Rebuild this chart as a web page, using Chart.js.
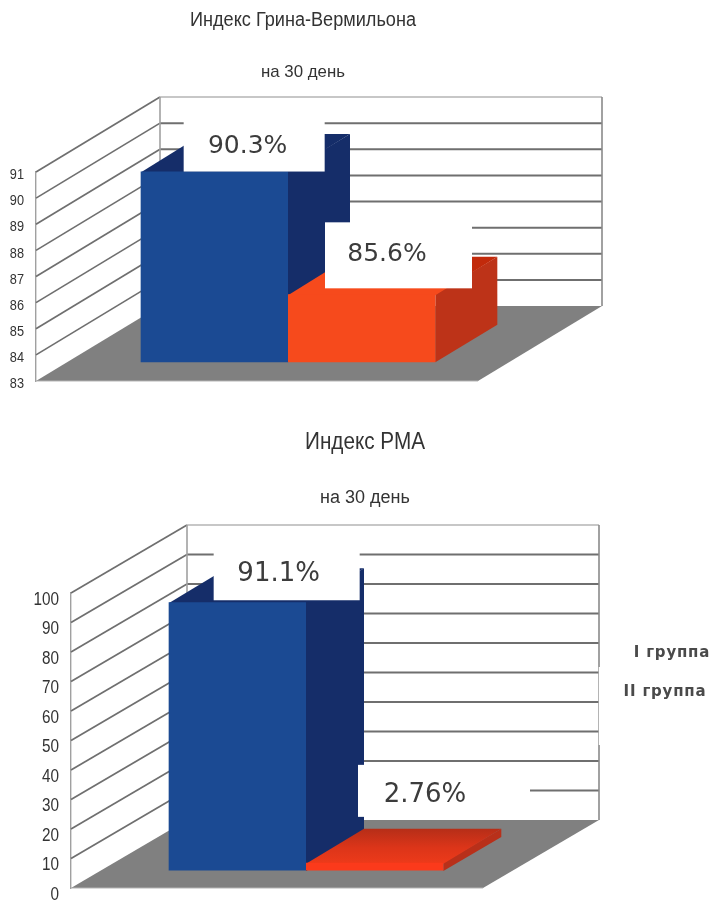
<!DOCTYPE html>
<html>
<head>
<meta charset="utf-8">
<title>Индекс Грина-Вермильона, индекс РМА</title>
<script src="https://cdn.jsdelivr.net/npm/chart.js@4"></script>
<style>
    html, body { margin: 0; padding: 0; background: #fff; overflow: hidden; }
    .box { position: absolute; left: 0; width: 714px; }
    canvas { display: block; }
</style>
</head>
<body>
<div class="box" style="top:0;height:420px"><canvas id="greenChart"></canvas></div>
<div class="box" style="top:420px;height:482px"><canvas id="pmaChart"></canvas></div>

<script>
const groups = ["I группа", "II группа"];
const categories = ["на 30 день"];

const greenValues = [90.3, 85.6];
const greenTitle = "Индекс Грина-Вермильона";

const pmaValues = [91.1, 2.76];
const pmaTitle = "Индекс РМА";

const subTitle = "на 30 день";

const blueFaces = { front: "#1b4a93", side: "#152d69", top: [[0, "#152d69"], [1, "#152d69"]], topDir: "h" };
const redFacesGreen = { front: "#f64a1c", side: "#bd3318", top: [[0, "#f64a1c"], [0.87, "#f64a1c"], [0.87, "#c22a0b"], [1, "#c22a0b"]], topDir: "h" };
const redFacesPma = { front: "#fb3a1b", side: "#b8301a", top: [[0, "#b62e18"], [0.55, "#dc3519"], [1, "#ec3a1a"]], topDir: "v" };

const lineColor = "#6f6f6f";
const floorColor = "#808080";

function polygon(ctx, pts, color) {
    ctx.fillStyle = color;
    ctx.beginPath();
    ctx.moveTo(pts[0][0], pts[0][1]);
    for (let i = 1; i < pts.length; i++) ctx.lineTo(pts[i][0], pts[i][1]);
    ctx.closePath();
    ctx.fill();
}

function segment(ctx, x1, y1, x2, y2, color, width) {
    ctx.strokeStyle = color;
    ctx.lineWidth = width;
    ctx.beginPath();
    ctx.moveTo(x1, y1);
    ctx.lineTo(x2, y2);
    ctx.stroke();
}

// walls, floor and the side/top faces of the bars are projected from the chart's own scales
const box3d = {
    id: "box3d",
    beforeDatasetsDraw(chart, args, opts) {
        const ctx = chart.ctx;
        const area = chart.chartArea;
        const yScale = chart.scales.y;
        const bottom = yScale.getPixelForValue(yScale.min);
        const dx = opts.depthX, dy = opts.depthY;

        ctx.save();
        // floor
        polygon(ctx, [[area.left, bottom], [area.left + dx, bottom - dy], [area.right + dx, bottom - dy], [area.right, bottom]], floorColor);

        // grid on the left wall and on the back wall
        yScale.ticks.forEach(t => {
            const y = yScale.getPixelForValue(t.value);
            if (t.value !== yScale.min) {
                segment(ctx, area.left, y, area.left + dx, y - dy, lineColor, 1.7);
                if (t.value !== yScale.max) segment(ctx, area.left + dx, y - dy, area.right + dx, y - dy, lineColor, 2);
            }
        });
        const top = yScale.getPixelForValue(yScale.max);
        segment(ctx, area.left + dx, top - dy, area.right + dx, top - dy, "#b5b5b5", 1.6);
        segment(ctx, area.left + dx, top - dy, area.left + dx, bottom - dy, "#a0a0a0", 1.6);
        segment(ctx, area.right + dx, top - dy, area.right + dx, bottom - dy, "#8a8a8a", 1.6);
        segment(ctx, area.left, bottom, area.right, bottom, "#b5b5b5", 1);

        // bars stand a quarter of the way in and are half the depth deep
        const sx = dx * 0.25, sy = dy * 0.25;
        const bx = dx * 0.5, by = dy * 0.5;
        chart.data.datasets.forEach((ds, i) => {
            const bar = chart.getDatasetMeta(i).data[0];
            const faces = opts.faces[i];
            const left = bar.x - bar.width / 2 + sx;
            const right = bar.x + bar.width / 2 + sx;
            const yTop = bar.y - sy;
            const yBase = bottom - sy;
            polygon(ctx, [[right, yTop], [right + bx, yTop - by], [right + bx, yBase - by], [right, yBase]], faces.side);

            const grad = faces.topDir === "h"
                ? ctx.createLinearGradient(left, 0, right + bx, 0)
                : ctx.createLinearGradient(0, yTop - by, 0, yTop);
            faces.top.forEach(s => grad.addColorStop(s[0], s[1]));
            // slight overlap so no seam shows against the front face
            polygon(ctx, [[left, yTop + 1], [left + bx, yTop - by], [right + bx, yTop - by], [right, yTop + 1]], grad);
        });
        ctx.restore();

        ctx.save();
        ctx.translate(sx, -sy);
    },
    afterDatasetsDraw(chart, args, opts) {
        const ctx = chart.ctx;
        ctx.restore();

        const sx = opts.depthX * 0.25, sy = opts.depthY * 0.25;
        ctx.save();
        chart.data.datasets.forEach((ds, i) => {
            const bar = chart.getDatasetMeta(i).data[0];
            const left = bar.x - bar.width / 2 + sx;
            const yTop = bar.y - sy;
            const tag = opts.tags[i];
            ctx.fillStyle = "#fff";
            ctx.fillRect(left + tag.dx, yTop + tag.dy, tag.w, tag.h);
            ctx.fillStyle = "#3c3c3c";
            ctx.font = opts.tagFont;
            ctx.textAlign = "center";
            ctx.textBaseline = "middle";
            ctx.fillText(ds.data[0] + "%", left + tag.tx, yTop + tag.ty);
        });
        ctx.restore();
    },
    afterDraw(chart, args, opts) {
        const ctx = chart.ctx;
        const yScale = chart.scales.y;
        ctx.save();
        ctx.textBaseline = "middle";

        // white panel behind the legend cuts into the right wall edge
        if (opts.legendBox) {
            const b = opts.legendBox;
            ctx.fillStyle = "#fff";
            ctx.fillRect(b.x, b.y, b.w, b.h);
        }

        // tick labels are squeezed, fillText's maxWidth does that
        ctx.fillStyle = "#333";
        ctx.textAlign = "right";
        ctx.font = opts.tickFont;
        yScale.ticks.forEach(t => {
            const w = ctx.measureText(t.label).width * 0.85;
            ctx.fillText(t.label, opts.tickX, yScale.getPixelForValue(t.value) + opts.tickOffset, w);
        });

        ctx.textAlign = "center";
        opts.texts.forEach(t => {
            ctx.font = t.font;
            ctx.letterSpacing = t.spacing || "0px";
            ctx.fillStyle = t.color || "#333";
            ctx.fillText(t.text, t.x, t.y, t.w);
        });
        ctx.restore();
    }
};

function makeChart(id, values, cfg) {
    const datasets = groups.map((g, i) => ({
        label: g,
        data: [values[i]],
        backgroundColor: cfg.faces[i].front,
        borderWidth: 0,
        barPercentage: 1,
        categoryPercentage: 2 / 3
    }));

    return new Chart(document.getElementById(id), {
        type: "bar",
        data: { labels: categories, datasets: datasets },
        plugins: [box3d],
        options: {
            responsive: true,
            maintainAspectRatio: false,
            animation: false,
            layout: { padding: cfg.padding },
            plugins: {
                legend: { display: false },
                title: { display: false },
                tooltip: { enabled: false },
                box3d: {
                    depthX: cfg.depthX,
                    depthY: cfg.depthY,
                    faces: cfg.faces,
                    tags: cfg.tags,
                    texts: cfg.texts,
                    legendBox: cfg.legendBox,
                    tagFont: cfg.tagFont,
                    tickFont: cfg.tickFont,
                    tickX: cfg.tickX,
                    tickOffset: cfg.tickOffset
                }
            },
            scales: {
                x: { display: false },
                y: {
                    min: cfg.min,
                    max: cfg.max,
                    afterFit(scale) { scale.width = cfg.axisWidth; },
                    grid: { drawOnChartArea: false, drawTicks: false },
                    border: { display: true, color: "#a0a0a0", width: 1.4 },
                    ticks: { display: false, stepSize: cfg.step }
                }
            }
        }
    });
}

makeChart("greenChart", greenValues, {
    min: 83, max: 91, step: 1,
    padding: { left: 0, right: 236, top: 172, bottom: 39 },
    axisWidth: 36, tickFont: "15px 'Liberation Sans'", tickX: 24, tickOffset: 3,
    depthX: 124, depthY: 75,
    faces: [blueFaces, redFacesGreen],
    tagFont: "25px 'DejaVu Sans'",
    tags: [
        { dx: 43, dy: -62, w: 141, h: 62, tx: 107, ty: -25 },
        { dx: 37, dy: -72, w: 147, h: 66, tx: 99, ty: -40 }
    ],
    texts: [
        { text: greenTitle, x: 303, y: 20, w: 226, font: "20px 'Liberation Sans'" },
        { text: subTitle, x: 303, y: 72, w: 84, font: "17px 'Liberation Sans'" }
    ]
});

makeChart("pmaChart", pmaValues, {
    min: 0, max: 100, step: 10,
    padding: { left: 0, right: 231, top: 173, bottom: 14 },
    axisWidth: 71, tickFont: "18px 'Liberation Sans'", tickX: 59, tickOffset: 7,
    depthX: 116, depthY: 68,
    faces: [blueFaces, redFacesPma],
    tagFont: "26px 'DejaVu Sans'",
    tags: [
        { dx: 45, dy: -57, w: 146, h: 55, tx: 110, ty: -28 },
        { dx: 52, dy: -98, w: 172, h: 52, tx: 119, ty: -68 }
    ],
    legendBox: { x: 598.8, y: 247, w: 116, h: 78 },
    texts: [
        { text: pmaTitle, x: 365, y: 22, w: 120, font: "24px 'Liberation Sans'" },
        { text: subTitle, x: 365, y: 78, w: 90, font: "18px 'Liberation Sans'" },
        { text: groups[0], x: 672, y: 233, font: "bold 15px 'DejaVu Sans'", spacing: "0.8px", color: "#4a4a4a" },
        { text: groups[1], x: 665, y: 272, font: "bold 15px 'DejaVu Sans'", spacing: "0.8px", color: "#4a4a4a" }
    ]
});
</script>
</body>
</html>
